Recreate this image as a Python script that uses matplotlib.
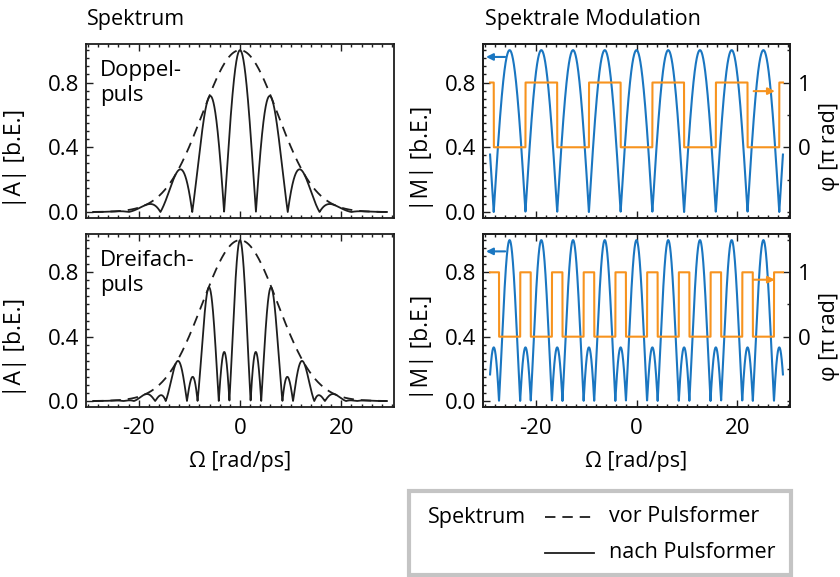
import numpy as np
import matplotlib
matplotlib.use("Agg")
import matplotlib.pyplot as plt
from matplotlib.ticker import MultipleLocator
from matplotlib.lines import Line2D
from matplotlib.patches import Rectangle

plt.rcParams["font.family"] = ["Open Sans", "DejaVu Sans"]
plt.rcParams["font.size"] = 15
plt.rcParams["lines.scale_dashes"] = False

# Frequency axis (rad/ps)
omega_min, omega_max = -29.0, 29.0
n_points = 4001

# Gaussian input spectrum: 1/e^(1/2) half width in rad/ps
spectral_width = 7.44

# Pulse trains produced by the pulse shaper: delays in ps, relative amplitudes
double_delays = [-0.5, 0.5]
double_amps = [0.5, 0.5]
triple_delays = [-1.0, 0.0, 1.0]
triple_amps = [1 / 3, 1 / 3, 1 / 3]

x_ticks = [-20, 0, 20]
y_ticks = [0.0, 0.4, 0.8]
phase_ticks = [0, 1]

BLUE = "#1a76c1"
ORANGE = "#f7931e"
INK = "#1e1e1e"
DASH = (7.5, 5)

TICK_FS = 16
LABEL_FS = 15.5
YLABEL_FS = 16.5

omega = np.linspace(omega_min, omega_max, n_points)
envelope = np.exp(-omega**2 / (2 * spectral_width**2))


def modulation(delays, amps):
    m = np.zeros_like(omega, dtype=complex)
    for t, a in zip(delays, amps):
        m += a * np.exp(1j * omega * t)
    mag = np.abs(m)
    phase = np.where(m.real < 0, 1.0, 0.0)  # in units of pi
    return mag, phase


fig = plt.figure(figsize=(8.4, 5.77), dpi=100)
W, H = 840, 577


def box(x0, y0, x1, y1):
    return [x0 / W, 1 - y1 / H, (x1 - x0) / W, (y1 - y0) / H]


ylim = (-0.037, 1.038)
xlim = (-30.4, 30.4)
phase_lim = ((ylim[0] - 0.4) / 0.4, (ylim[1] - 0.4) / 0.4)


def style(ax, show_xlabels):
    ax.set_xlim(*xlim)
    ax.set_ylim(*ylim)
    ax.set_xticks(x_ticks)
    ax.set_yticks(y_ticks)
    ax.xaxis.set_minor_locator(MultipleLocator(2))
    ax.yaxis.set_minor_locator(MultipleLocator(0.05))
    ax.tick_params(which="both", direction="in", top=True, color=INK, width=1.0)
    ax.tick_params(which="major", length=5, labelsize=TICK_FS)
    ax.tick_params(axis="y", which="major", pad=5)
    ax.tick_params(axis="x", which="major", pad=8)
    ax.tick_params(which="minor", length=2.5)
    ax.set_yticklabels([f"{v:.1f}" for v in y_ticks])
    if show_xlabels:
        ax.set_xticklabels([f"{v:d}" for v in x_ticks])
        ax.set_xlabel("Ω [rad/ps]", fontsize=LABEL_FS)
        ax.xaxis.set_label_coords(0.5, -0.255)
    else:
        ax.set_xticklabels([])
    for s in ax.spines.values():
        s.set_linewidth(1.3)
        s.set_color(INK)


rows = [
    ("Doppel-\npuls", double_delays, double_amps, 44, 218),
    ("Dreifach-\npuls", triple_delays, triple_amps, 234, 407),
]

for i, (name, delays, amps, y0, y1) in enumerate(rows):
    mag, phase = modulation(delays, amps)
    last = i == len(rows) - 1

    # Spectrum before and after the pulse shaper
    ax = fig.add_axes(box(86, y0, 394, y1))
    ax.plot(omega, envelope, color=INK, lw=1.3, dashes=DASH)
    ax.plot(omega, envelope * mag, color=INK, lw=1.3)
    style(ax, last)
    ax.set_ylabel("|A| [b.E.]", fontsize=YLABEL_FS)
    ax.yaxis.set_label_coords(-0.19, 0.345)
    ax.text(0.045, 0.91, name, transform=ax.transAxes, ha="left", va="top",
            fontsize=16, linespacing=1.25)

    # Spectral modulation: amplitude and phase
    axm = fig.add_axes(box(483, y0, 790, y1))
    axm.plot(omega, mag, color=BLUE, lw=1.5)
    style(axm, last)
    axm.set_ylabel("|M| [b.E.]", fontsize=YLABEL_FS)
    axm.yaxis.set_label_coords(-0.16, 0.345)

    axp = axm.twinx()
    axp.plot(omega, phase, color=ORANGE, lw=1.5)
    axp.set_ylim(*phase_lim)
    axp.set_xlim(*xlim)
    axp.set_yticks(phase_ticks)
    axp.set_yticklabels([str(v) for v in phase_ticks])
    axp.yaxis.set_minor_locator(MultipleLocator(0.5))
    axp.tick_params(which="both", direction="in", color=INK, width=1.0)
    axp.tick_params(which="major", length=5, labelsize=TICK_FS, pad=6)
    axp.tick_params(which="minor", length=2.5)
    axp.set_ylabel("φ [π rad]", fontsize=LABEL_FS, rotation=90)
    axp.yaxis.set_label_coords(1.095, 0.41)
    for s in axp.spines.values():
        s.set_linewidth(1.3)
        s.set_color(INK)

    # Arrows pointing at the axis each curve belongs to
    yb = 0.958 if i == 0 else 0.93
    axm.annotate("", xy=(-29.8, yb), xytext=(-26.0, yb),
                 arrowprops=dict(arrowstyle="-|>", color=BLUE, lw=1.5,
                                 mutation_scale=10, shrinkA=0, shrinkB=0))
    yo = 0.867 if i == 0 else 0.885
    axp.annotate("", xy=(27.4, yo), xytext=(23.2, yo),
                 arrowprops=dict(arrowstyle="-|>", color=ORANGE, lw=1.5,
                                 mutation_scale=10, shrinkA=0, shrinkB=0))

fig.text(87 / W, 1 - 20 / H, "Spektrum", ha="left", va="center",
         fontsize=LABEL_FS)
fig.text(485 / W, 1 - 20 / H, "Spektrale Modulation", ha="left", va="center",
         fontsize=LABEL_FS)

# Line-style key
fig.patches.append(Rectangle((409 / W, 1 - 575 / H), 382 / W, 84 / H,
                             transform=fig.transFigure, fill=False,
                             edgecolor="#c4c4c4", lw=3))
fig.text(428 / W, 1 - 517 / H, "Spektrum", ha="left", va="center",
         fontsize=LABEL_FS)
fig.lines.append(Line2D([545 / W, 595 / W], [1 - 517 / H] * 2,
                        transform=fig.transFigure, color=INK, lw=1.3,
                        dashes=DASH))
fig.text(609 / W, 1 - 517 / H, "vor Pulsformer", ha="left", va="center",
         fontsize=LABEL_FS)
fig.lines.append(Line2D([545 / W, 594 / W], [1 - 553 / H] * 2,
                        transform=fig.transFigure, color=INK, lw=1.3))
fig.text(609 / W, 1 - 553 / H, "nach Pulsformer", ha="left", va="center",
         fontsize=LABEL_FS)

fig.savefig("out.png", dpi=100)
